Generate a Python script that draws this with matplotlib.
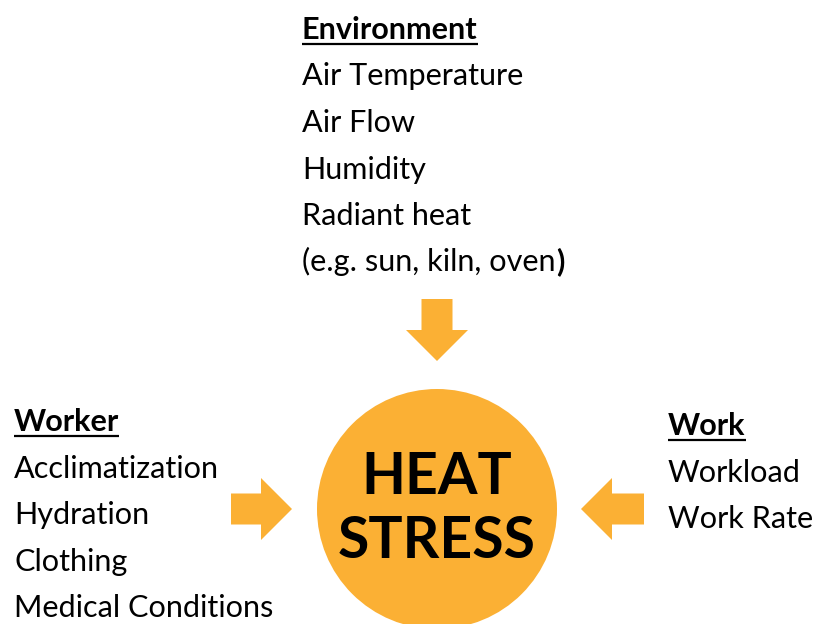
import matplotlib
matplotlib.use('Agg')
import matplotlib.pyplot as plt
from matplotlib.patches import Circle, Polygon

plt.rcParams['font.family'] = ['Lato', 'DejaVu Sans']

orange = '#FBB034'

# text blocks of the diagram
env_title = 'Environment'
env_items = ['Air Temperature', 'Air Flow', 'Humidity', 'Radiant heat', '(e.g. sun, kiln, oven']
worker_title = 'Worker'
worker_items = ['Acclimatization', 'Hydration', 'Clothing', 'Medical Conditions']
work_title = 'Work'
work_items = ['Workload', 'Work Rate']
center_lines = ['HEAT', 'STRESS']

W, H = 814, 624
fig = plt.figure(figsize=(W / 100, H / 100), dpi=100)
ax = fig.add_axes([0, 0, 1, 1])
ax.set_xlim(0, W)
ax.set_ylim(H, 0)
ax.axis('off')

fs = 22.1
step = 46.5


def block(x, y0, title, items):
    t = ax.text(x, y0, title, fontsize=fs, fontweight='bold', va='baseline', ha='left')
    texts = [t]
    for i, s in enumerate(items):
        texts.append(ax.text(x, y0 + step * (i + 1), s, fontsize=fs, va='baseline', ha='left'))
    return texts


env = block(302, 39, env_title, env_items)
wkr = block(14, 431, worker_title, worker_items)
wrk = block(668, 435, work_title, work_items)

# circle in the middle
ax.add_patch(Circle((437, 509), 120, color=orange, lw=0))
ax.text(437, 494, center_lines[0], fontsize=41, fontweight='bold', ha='center', va='baseline')
ax.text(437, 558, center_lines[1], fontsize=41, fontweight='bold', ha='center', va='baseline')


def arrow(tip, direction, shaft_len=38, shaft_w=31, head_len=31, head_w=62):
    tx, ty = tip
    pts = [(0, 0), (head_len, -head_w / 2), (head_len, -shaft_w / 2),
           (head_len + shaft_len, -shaft_w / 2), (head_len + shaft_len, shaft_w / 2),
           (head_len, shaft_w / 2), (head_len, head_w / 2)]
    out = []
    for a, b in pts:
        if direction == 'down':
            out.append((tx + b, ty - a))
        elif direction == 'right':
            out.append((tx - a, ty + b))
        else:
            out.append((tx + a, ty + b))
    ax.add_patch(Polygon(out, closed=True, color=orange, lw=0))


arrow((437, 361), 'down', shaft_len=31)
arrow((292, 509), 'right', shaft_len=30)
arrow((581, 509), 'left', shaft_len=32)

# underlines for headers and bold closing paren
fig.canvas.draw()
r = fig.canvas.get_renderer()
inv = ax.transData.inverted()
for t, uy in [(env[0], 43.5), (wkr[0], 435.5), (wrk[0], 440)]:
    bb = t.get_window_extent(r)
    x0 = inv.transform((bb.x0, 0))[0]
    x1 = inv.transform((bb.x1, 0))[0]
    ax.plot([x0, x1], [uy, uy], color='black', lw=1.6, solid_capstyle='butt')

bb = env[-1].get_window_extent(r)
xe = inv.transform((bb.x1, 0))[0]
ax.text(xe + 1, 39 + step * 5, ')', fontsize=fs, fontweight='bold', va='baseline', ha='left')

fig.savefig('out.png', dpi=100)
